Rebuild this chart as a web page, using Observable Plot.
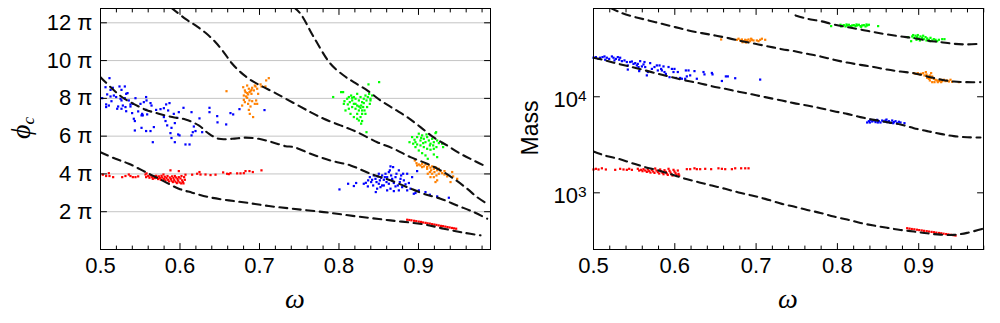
<!DOCTYPE html>
<html><head><meta charset="utf-8">
<script src="https://cdn.jsdelivr.net/npm/d3@7"></script>
<script src="https://cdn.jsdelivr.net/npm/@observablehq/plot@0.6"></script>
<style>
body{margin:0;background:#fff;}
#wrap{position:relative;width:1000px;height:323px;overflow:hidden;}
#left{position:absolute;left:0;top:0}
#right{position:absolute;left:500px;top:0}
</style></head><body><div id="wrap"><div id="left"></div><div id="right"></div></div>
<script>
// ---------- axis tick values ----------
const omegaTicks = [0.5, 0.6, 0.7, 0.8, 0.9];
const omegaMinor = [0.52,0.54,0.56,0.58,0.62,0.64,0.66,0.68,0.72,0.74,0.76,0.78,0.82,0.84,0.86,0.88,0.92,0.94,0.96,0.98];
const phiTicks = [2, 4, 6, 8, 10, 12];           // in units of π
const massTicks = [1000, 10000];

// ---------- dashed curves: phi_c / π vs ω ----------
const phiCurve1 = [[0.5893,12.79],[0.6069,12.21],[0.6195,11.86],[0.6321,11.47],[0.6447,10.97],[0.6551,10.44],[0.6657,9.83],[0.6761,9.39],[0.6887,8.98],[0.7034,8.63],[0.7201,8.28],[0.7431,7.75],[0.7642,7.27],[0.7809,6.92],[0.8019,6.57],[0.8229,6.21],[0.8481,5.68],[0.8689,5.33],[0.8899,4.89],[0.9109,4.54],[0.9277,4.19],[0.9443,3.75],[0.9611,3.22],[0.9738,2.77],[0.9864,2.42]];
const phiCurve2 = [[0.7431,12.83],[0.7516,12.48],[0.7683,11.24],[0.7893,9.83],[0.8060,9.21],[0.8186,8.86],[0.8355,8.42],[0.8522,7.89],[0.8689,7.45],[0.8858,7.01],[0.9025,6.48],[0.9192,5.93],[0.9360,5.51],[0.9528,5.07],[0.9696,4.71],[0.9864,4.36]];
const phiCurve3 = [[0.5,9.12],[0.5147,8.51],[0.5273,8.06],[0.5399,7.75],[0.5566,7.40],[0.5733,7.19],[0.5902,7.01],[0.6069,6.88],[0.6236,6.57],[0.6362,6.13],[0.6488,5.86],[0.6655,5.86],[0.6824,5.92],[0.6991,5.86],[0.7160,5.68],[0.7327,5.47],[0.7431,5.42],[0.7642,5.07],[0.7893,4.71],[0.8145,4.45],[0.8396,4.01],[0.8648,3.66],[0.8858,3.30],[0.9065,2.95],[0.9277,2.69],[0.9487,2.33],[0.9696,1.98],[0.9864,1.63]];
const phiCurve4 = [[0.5,5.15],[0.5189,4.80],[0.5356,4.54],[0.5566,4.10],[0.5776,3.66],[0.5985,3.22],[0.6152,3.01],[0.6362,2.77],[0.6614,2.60],[0.6865,2.46],[0.7117,2.30],[0.7411,2.16],[0.7809,1.98],[0.8229,1.75],[0.8648,1.54],[0.9067,1.33],[0.9318,1.10],[0.9570,0.89],[0.9780,0.75]];

// ---------- dashed curves: Mass vs ω ----------
const massCurve1 = [[0.5205,84500],[0.5349,74300],[0.5513,67500],[0.5677,62400],[0.5841,57500],[0.6005,53100],[0.6169,49000],[0.6333,46000],[0.6497,43400],[0.6661,40800],[0.6825,37900],[0.6989,35600],[0.7153,33400],[0.7317,31300],[0.7464,29900],[0.7628,28000],[0.7792,26300],[0.7956,24300],[0.8120,22700],[0.8284,21500],[0.8448,20400],[0.8612,19200],[0.8776,18300],[0.8940,17600],[0.9104,16300],[0.9268,15100],[0.9432,14400],[0.9596,14200],[0.9760,14200]];
const massCurve2 = [[0.7485,70300],[0.7628,64900],[0.7792,61400],[0.7956,56600],[0.8120,53100],[0.8284,50200],[0.8448,47100],[0.8612,44600],[0.8776,42500],[0.8940,40800],[0.9104,38500],[0.9268,37100],[0.9432,35600],[0.9596,35100],[0.9760,35600]];
const massCurve3 = [[0.5,25500],[0.5144,23900],[0.5308,22000],[0.5472,20400],[0.5636,18800],[0.5800,17300],[0.5964,16000],[0.6128,14800],[0.6292,13900],[0.6456,12900],[0.6620,12100],[0.6784,11300],[0.6948,10600],[0.7112,9910],[0.7317,9140],[0.7464,8590],[0.7628,8110],[0.7792,7600],[0.7956,7080],[0.8120,6640],[0.8284,6140],[0.8448,5750],[0.8612,5440],[0.8776,5140],[0.8940,4710],[0.9104,4390],[0.9268,4110],[0.9432,3890],[0.9596,3790],[0.9760,3770]];
const massCurve4 = [[0.5,2690],[0.5144,2440],[0.5308,2260],[0.5472,2040],[0.5636,1850],[0.5800,1710],[0.5964,1550],[0.6128,1400],[0.6292,1290],[0.6456,1190],[0.6620,1100],[0.6784,1010],[0.6948,938],[0.7112,865],[0.7317,767],[0.7464,719],[0.7628,664],[0.7792,618],[0.7956,566],[0.8120,527],[0.8284,486],[0.8448,456],[0.8612,432],[0.8776,411],[0.8940,395],[0.9104,379],[0.9268,367],[0.9432,365],[0.9596,383],[0.9780,421]];

// ---------- scatter: phi_c / π vs ω ----------
const phiRed = [[0.5029,3.96],[0.5071,3.89],[0.5105,4.04],[0.5113,3.89],[0.5159,3.83],[0.5273,3.83],[0.5314,3.89],[0.5356,3.97],[0.5377,3.89],[0.5407,3.83],[0.544,3.83],[0.5474,3.87],[0.5579,4.03],
 [0.5566,3.97],[0.5574,3.83],[0.56,3.89],[0.5616,3.80],[0.5629,3.92],[0.565,3.83],[0.5658,3.74],[0.5671,3.87],[0.5683,3.78],[0.57,3.90],[0.5713,3.81],[0.5725,3.73],[0.5734,3.87],[0.5746,3.78],[0.5759,3.69],[0.5767,3.90],[0.5776,3.81],[0.5792,3.97],[0.5797,3.73],[0.5809,3.85],[0.5818,3.66],[0.583,3.78],[0.5843,3.89],[0.5851,3.69],[0.586,3.60],[0.5872,3.81],[0.588,4.19],[0.5885,3.73],[0.5893,3.64],[0.5901,3.87],[0.591,3.57],[0.5918,3.78],[0.5927,3.67],[0.5935,3.89],[0.5943,3.59],[0.5952,3.81],[0.596,3.515],[0.5969,3.73],[0.5977,3.64],[0.5985,4.15],[0.5985,3.83],[0.5994,3.55],[0.6006,3.76],[0.6015,3.50],[0.6019,3.89],[0.6027,3.66],[0.6036,3.57],[0.6044,3.50],[0.6052,3.83],[0.6061,3.69],
 [0.6069,3.96],[0.6153,3.96],[0.6216,4.01],[0.6245,4.10],[0.6258,3.97],[0.6321,3.97],[0.6384,3.94],[0.6447,3.96],[0.6543,4.08],[0.6593,4.01],[0.6614,3.99],[0.6635,4.04],[0.6719,4.03],[0.6761,4.03],[0.6803,4.04],[0.6824,4.15],[0.6874,4.15],[0.6916,4.10],[0.7025,4.19],
 [0.8858,1.575],[0.8885,1.56],[0.8912,1.545],[0.8945,1.52],[0.8972,1.50],[0.9003,1.475],[0.9031,1.46],[0.9058,1.43],[0.9089,1.41],[0.9114,1.385],[0.9142,1.37],[0.9171,1.34],[0.9199,1.32],[0.9226,1.30],[0.9254,1.275],[0.9283,1.25],[0.9309,1.235],[0.9338,1.21],[0.9365,1.185],[0.9392,1.165],[0.9421,1.14],[0.9447,1.12],[0.9474,1.10]];
const phiBlue = [[0.5113,9.07],[0.5063,8.59],[0.5126,8.45],[0.5155,8.56],[0.5084,8.21],[0.5021,8.01],[0.5126,8.10],[0.5168,8.15],[0.5138,7.85],[0.5239,8.63],[0.5264,8.45],[0.5306,8.63],[0.5323,8.24],[0.534,8.28],[0.5306,8.01],[0.5252,7.98],[0.5264,7.89],[0.5197,8.07],[0.5222,7.57],[0.521,7.45],[0.5071,7.68],[0.5071,7.54],[0.5105,7.62],[0.5264,7.45],[0.5314,7.54],[0.5377,7.57],[0.5356,7.89],[0.5281,7.62],[0.5323,7.32],[0.5377,7.68],[0.5407,7.71],[0.544,8.01],[0.5398,7.22],[0.5474,7.31],[0.5524,7.18],[0.5516,7.10],[0.5574,8.07],[0.5579,7.89],[0.5545,7.80],[0.5503,7.71],[0.5629,7.75],[0.5642,7.62],[0.5574,7.39],[0.5587,7.15],[0.5532,7.10],[0.5419,6.92],[0.5432,6.80],[0.5432,6.30],[0.5516,6.44],[0.5574,6.27],[0.5629,6.27],[0.5671,6.48],[0.5658,5.68],[0.57,7.39],[0.5755,7.43],[0.5797,7.48],[0.5826,7.68],[0.5868,7.75],[0.5851,7.36],[0.5797,7.01],[0.5818,6.80],[0.5839,6.57],[0.5893,6.44],[0.5922,7.18],[0.5935,6.69],[0.5964,6.97],[0.5985,7.27],[0.6044,7.50],[0.588,6.16],[0.5893,5.90],[0.5935,5.68],[0.5977,6.09],[0.5994,6.04],[0.6069,5.56],[0.612,5.56],[0.6145,6.04],[0.6161,6.21],[0.6145,7.27],[0.6174,6.51],[0.6195,6.27],[0.6245,6.94],[0.6279,6.21],[0.6371,7.50],[0.6371,7.27],[0.6468,7.06],[0.6472,6.73],[0.6581,6.62],[0.6635,7.22],[0.6669,7.15],[0.6748,7.43],[0.7063,7.38],
 [0.8006,3.18],[0.8115,3.48],[0.8187,3.36],[0.8216,3.52],[0.8312,3.48],[0.8367,3.66],[0.8388,3.83],[0.8417,3.69],[0.8438,3.92],[0.8459,3.74],[0.8472,3.57],[0.8489,3.87],[0.8501,4.01],[0.8514,3.66],[0.853,3.80],[0.8543,3.92],[0.8564,3.69],[0.8585,4.01],[0.8598,3.57],[0.8606,3.83],[0.8627,4.10],[0.864,4.19],[0.8656,3.92],[0.8669,3.66],[0.869,3.52],[0.8711,3.83],[0.8723,4.01],[0.874,3.39],[0.8753,4.19],[0.8765,3.57],[0.8782,3.92],[0.8795,3.30],[0.8816,3.66],[0.8837,3.45],[0.8858,4.01],[0.8879,3.52],[0.89,3.22],[0.892,3.83],[0.8941,2.95],[0.8962,2.99],[0.8983,4.15],[0.8405,3.57],[0.843,3.39],[0.8463,3.04],[0.848,3.22],[0.8522,3.30],[0.8564,3.39],[0.8606,3.13],[0.8648,3.22],[0.869,3.09],[0.8711,3.34],[0.8753,3.13],[0.8774,3.74],[0.8648,4.40],[0.8681,4.36],[0.9143,2.90],[0.9235,2.81],[0.9382,2.74],[0.9004,3.13],[0.9088,3.04],[0.8363,3.34],[0.8338,3.53],[0.8501,3.48],[0.8627,3.48],[0.8543,3.39],[0.8577,3.83],[0.8669,3.74],[0.8807,4.01],[0.8858,3.13]];
const phiOrange = [[0.6585,8.38],[0.6795,8.59],[0.6816,8.42],[0.6845,8.68],[0.6866,8.51],[0.6887,8.38],[0.6908,8.56],[0.6929,8.42],[0.6899,8.24],[0.6857,8.21],[0.6832,8.10],[0.6803,7.92],[0.6816,7.80],[0.6845,8.03],[0.6874,7.89],[0.6857,7.71],[0.6887,7.57],[0.6866,7.39],[0.6908,7.85],[0.6941,8.68],[0.695,8.63],[0.6971,8.51],[0.6983,8.24],[0.6958,7.89],[0.6971,7.71],[0.7013,8.74],[0.7025,8.63],[0.7075,8.63],[0.7084,8.95],[0.7117,9.07],[0.6803,8.15],[0.6824,8.33],[0.6845,8.28],[0.6874,8.33],[0.6899,8.45],[0.6878,7.18],[0.692,7.01],[0.6782,7.62],[0.6941,7.71],
 [0.8954,4.71],[0.8975,4.57],[0.9004,4.50],[0.9025,4.45],[0.9046,4.54],[0.9067,4.40],[0.9088,4.50],[0.9109,4.36],[0.913,4.45],[0.9151,4.33],[0.9172,4.40],[0.9193,4.27],[0.9214,4.36],[0.9235,4.19],[0.9256,4.27],[0.9277,4.15],[0.9143,4.10],[0.9172,4.01],[0.9193,3.83],[0.9226,3.92],[0.9256,4.01],[0.9235,3.66],[0.9298,4.04],[0.9327,3.97],[0.9361,3.87],[0.9403,3.57],[0.9424,4.10],[0.9436,3.87],[0.9487,3.74],[0.9117,4.01],[0.9151,3.83],[0.9214,3.57],[0.9046,4.36],[0.8983,4.45],[0.9327,4.15],[0.9201,4.10],[0.9159,4.19],[0.9109,4.27]];
const phiGreen = [[0.7927,8.07],[0.8027,8.33],[0.8052,8.33],[0.8069,7.85],[0.8103,7.98],[0.8124,8.07],[0.8136,7.80],[0.8153,8.15],[0.8166,7.89],[0.8187,7.71],[0.8208,7.98],[0.8229,8.24],[0.825,7.89],[0.8271,8.07],[0.8279,7.62],[0.8291,7.80],[0.8312,7.98],[0.8333,8.15],[0.8346,7.89],[0.8363,8.07],[0.8379,8.24],[0.8396,7.98],[0.8388,7.71],[0.8354,7.54],[0.8321,7.36],[0.8291,7.18],[0.8271,7.01],[0.825,6.83],[0.8279,6.66],[0.8229,7.18],[0.8208,7.45],[0.8166,7.54],[0.8124,7.45],[0.8082,7.36],[0.8061,7.71],[0.8187,8.07],[0.8229,7.62],[0.8304,7.54],[0.8333,7.18],[0.8346,6.21],[0.8371,8.74],[0.8505,8.86],[0.8145,7.18],[0.8187,7.01],[0.825,7.36],[0.8291,7.36],[0.8396,7.89],[0.8417,8.15],[0.8208,7.71],[0.825,7.57],[0.8312,7.75],[0.8166,8.03],[0.8111,7.68],[0.8271,7.50],[0.8229,6.92],[0.8291,6.80],
 [0.8887,5.68],[0.892,5.95],[0.895,5.81],[0.8983,5.95],[0.9004,6.13],[0.9025,5.77],[0.9046,6.04],[0.9067,5.86],[0.9088,5.68],[0.9109,5.95],[0.913,5.77],[0.9151,5.60],[0.9172,5.86],[0.9193,5.68],[0.9214,6.16],[0.9235,5.77],[0.9256,5.63],[0.9298,5.60],[0.931,5.42],[0.9226,5.42],[0.9193,5.33],[0.9151,5.28],[0.9109,5.33],[0.9067,5.42],[0.9025,5.51],[0.8983,5.56],[0.8962,5.42],[0.9004,5.24],[0.9046,5.10],[0.9088,4.98],[0.9117,4.80],[0.9193,5.03],[0.9235,4.89],[0.9222,6.21],[0.8962,5.68],[0.8933,5.60],[0.9059,5.63],[0.9143,5.51],[0.9185,5.51],[0.9034,5.91],[0.9101,6.09]];

// ---------- scatter: Mass vs ω ----------
const massRed = [[0.5,1750],[0.5029,1778],[0.5062,1750],[0.5103,1800],[0.5152,1750],[0.5267,1735],[0.5328,1778],[0.5369,1750],[0.541,1735],[0.5439,1778],[0.5472,1735],
 [0.5545,1778],[0.5562,1706],[0.5586,1735],[0.5603,1680],[0.5615,1763],[0.5636,1706],[0.5656,1652],[0.5668,1750],[0.5685,1680],[0.5701,1626],[0.5718,1735],[0.5734,1666],[0.575,1613],[0.5759,1791],[0.5775,1706],[0.5791,1641],[0.5808,1588],[0.582,1750],[0.5832,1680],[0.5849,1613],[0.5861,1562],[0.5873,1720],[0.589,1652],[0.5902,1588],[0.5914,1538],[0.5923,1778],[0.5935,1693],[0.5947,1626],[0.5959,1562],[0.5972,1514],[0.5984,1735],[0.5996,1666],[0.6009,1600],[0.6021,1538],[0.6037,1706],[0.6046,1575],[0.6054,1514],
 [0.6148,1763],[0.6189,1763],[0.6242,1800],[0.6271,1763],[0.6312,1763],[0.6374,1778],[0.6447,1763],[0.6537,1800],[0.6579,1778],[0.662,1763],[0.6702,1763],[0.6743,1800],[0.6816,1800],[0.6866,1800],[0.6907,1800],
 [0.8858,428],[0.8887,424],[0.8915,420],[0.8946,417],[0.8978,413],[0.9006,409],[0.9037,406],[0.9066,402],[0.9098,399],[0.9126,395],[0.9158,392],[0.9187,389],[0.9216,385],[0.9248,382],[0.9277,379],[0.9306,375],[0.9338,372],[0.9366,369],[0.9397,365],[0.9428,362],[0.9453,359]];
const massBlue = [[0.5,25500],[0.5029,25900],[0.5062,24800],[0.5082,25500],[0.5111,25900],[0.5135,26300],[0.5144,24300],[0.5164,25500],[0.5193,24800],[0.5226,26300],[0.5246,25500],[0.5258,23900],[0.5275,24800],[0.5299,25900],[0.5316,24300],[0.5328,25500],[0.5349,23500],[0.5381,23900],[0.541,23000],[0.5422,21200],[0.5422,19200],[0.5451,23000],[0.5472,23300],[0.5492,22000],[0.5513,22400],[0.5533,21200],[0.5545,22000],[0.5554,20400],[0.5562,18500],[0.5574,23500],[0.5595,20700],[0.5615,21700],[0.5627,23000],[0.5636,20400],[0.5656,16700],[0.5668,18100],[0.5697,22400],[0.5718,19500],[0.575,20400],[0.5779,21200],[0.5791,18800],[0.5812,21200],[0.5832,19500],[0.5841,18800],[0.5861,20700],[0.5873,18100],[0.589,17300],[0.5923,20400],[0.5935,16000],[0.5964,19500],[0.5984,18100],[0.5996,19500],[0.6013,15700],[0.6037,18100],[0.6066,15700],[0.6087,15400],[0.6128,15400],[0.6136,18800],[0.6148,16300],[0.6169,18800],[0.6189,16700],[0.6242,18500],[0.6271,15400],[0.6353,18100],[0.6365,17100],[0.6456,17700],[0.6464,17100],[0.6579,14600],[0.6628,16300],[0.6652,16300],[0.6743,15600],[0.705,15100],
 [0.8366,5400],[0.8387,5570],[0.8407,5750],[0.8428,5530],[0.8448,5660],[0.8469,5450],[0.8489,5750],[0.851,5570],[0.853,5400],[0.8551,5660],[0.8571,5530],[0.8592,5660],[0.8612,5450],[0.8633,5570],[0.8653,5360],[0.8674,5660],[0.8694,5450],[0.8715,5570],[0.8735,5310],[0.8756,5490],[0.8776,5400],[0.8825,5310],[0.8399,5400],[0.8497,5400],[0.8604,5790],[0.8686,5310]];
const massOrange = [[0.657,39500],[0.6763,39200],[0.6784,40200],[0.6804,38600],[0.6825,39500],[0.6845,37900],[0.6866,39200],[0.6886,38600],[0.6907,39500],[0.6927,37900],[0.6948,39200],[0.6968,38600],[0.7009,38600],[0.703,37900],[0.705,39200],[0.7071,40200],[0.7112,39200],[0.6833,37000],[0.6874,36700],[0.6939,40200],[0.6898,37300],
 [0.894,17620],[0.8961,17340],[0.8989,17620],[0.9014,17060],[0.903,17340],[0.9055,17620],[0.9071,16670],[0.9096,17060],[0.9112,16260],[0.9137,16670],[0.9153,15740],[0.9166,16260],[0.9186,15380],[0.9207,15030],[0.9227,14790],[0.9248,14560],[0.9268,15030],[0.9289,14560],[0.9309,15030],[0.933,14560],[0.935,14790],[0.9371,14430],[0.9391,15030],[0.9411,14320],[0.9166,14200],[0.9137,14790],[0.9194,14200],[0.9235,14200],[0.9276,14200],[0.9494,14200],[0.9125,15380],[0.9104,15740],[0.9153,17620],[0.9088,18070]];
const massGreen = [[0.7923,54400],[0.8038,56200],[0.8058,54900],[0.8079,55700],[0.81,54000],[0.812,55300],[0.8141,56200],[0.8161,54400],[0.8182,55300],[0.8202,55700],[0.8223,54400],[0.8243,55300],[0.8264,56200],[0.8284,54400],[0.8305,55300],[0.8325,55700],[0.8346,54000],[0.8366,55300],[0.8387,56200],[0.8501,54400],[0.8046,54000],[0.8112,56600],[0.8169,53500],[0.8235,56600],[0.8292,53500],[0.8358,56600],
 [0.887,41800],[0.8907,37900],[0.892,42500],[0.894,41100],[0.8961,43200],[0.8981,41800],[0.9002,40500],[0.9022,42500],[0.9043,41100],[0.9063,39800],[0.9084,41800],[0.9104,40500],[0.9125,39200],[0.9145,41100],[0.9166,38600],[0.9186,39800],[0.9207,39200],[0.9227,37900],[0.9248,39200],[0.9289,39800],[0.9317,39800],[0.9014,38600],[0.9055,43200],[0.9096,38600],[0.9137,37900],[0.8973,39200],[0.8932,43900],[0.8989,43900]];

// ---------- colours ----------
const colRed = "#ff0000", colBlue = "#0000ff", colOrange = "#ff8000", colGreen = "#00ff00";

// ---------- helpers ----------
const tickShape = {draw(ctx, l) { ctx.moveTo(0, 0); ctx.lineTo(0, -l); }};
function frameTicks(xd, yd, xMaj, xMin, yMaj) {
  const c = {anchor: "start", shape: tickShape, stroke: "black", strokeWidth: 1};
  const m = [];
  for (const [vals, len] of [[xMaj, 6], [xMin, 3.5]]) {
    m.push(Plot.vector(vals, {...c, x: d => d, y: () => yd[0], length: len, rotate: 0}));
    m.push(Plot.vector(vals, {...c, x: d => d, y: () => yd[1], length: len, rotate: 180}));
  }
  m.push(Plot.vector(yMaj, {...c, y: d => d, x: () => xd[0], length: 6, rotate: 90}));
  m.push(Plot.vector(yMaj, {...c, y: d => d, x: () => xd[1], length: 6, rotate: -90}));
  return m;
}
const dots = (arr, col) => Plot.dot(arr, {x: d => d[0], y: d => d[1], symbol: "square", r: 1.25, fill: col, stroke: "none"});
const dashed = arr => Plot.line(arr, {x: d => d[0], y: d => d[1], stroke: "#111", strokeWidth: 2.1, strokeDasharray: "8,5.5", curve: "catmull-rom", clip: true});
const baseStyle = {fontFamily: "'Liberation Sans', Arial, sans-serif", fontSize: "22px", color: "black", background: "white"};

// ---------- left panel ----------
const lx = [0.5, 0.9906], ly = [0, 12.757];
const left = Plot.plot({
  width: 500, height: 323,
  marginLeft: 100, marginRight: 10, marginTop: 8, marginBottom: 74,
  x: {domain: lx}, y: {domain: ly},
  style: baseStyle,
  marks: [
    Plot.ruleY(phiTicks, {stroke: "#c4c4c4", strokeWidth: 1}),
    dots(phiRed, colRed), dots(phiBlue, colBlue), dots(phiOrange, colOrange), dots(phiGreen, colGreen),
    dashed(phiCurve1), dashed(phiCurve2), dashed(phiCurve3), dashed(phiCurve4),
    Plot.frame({stroke: "black", strokeWidth: 1}),
    ...frameTicks(lx, ly, omegaTicks, omegaMinor, phiTicks),
    Plot.axisX({ticks: omegaTicks, tickSize: 0, tickPadding: 8, tickFormat: d => d.toFixed(1), label: null}),
    Plot.axisY({ticks: phiTicks, tickSize: 0, tickPadding: 8, tickFormat: d => d + " π", label: null})
  ]
});
document.getElementById("left").appendChild(left);

// ---------- right panel ----------
const rx = [0.5, 0.9797], ry = [257, 83000];
const right = Plot.plot({
  width: 500, height: 323,
  marginLeft: 93, marginRight: 17, marginTop: 8, marginBottom: 74,
  x: {domain: rx}, y: {type: "log", domain: ry},
  style: baseStyle,
  marks: [
    dots(massRed, colRed), dots(massBlue, colBlue), dots(massOrange, colOrange), dots(massGreen, colGreen),
    dashed(massCurve1), dashed(massCurve2), dashed(massCurve3), dashed(massCurve4),
    Plot.frame({stroke: "black", strokeWidth: 1}),
    ...frameTicks(rx, ry, omegaTicks, omegaMinor, massTicks),
    Plot.axisX({ticks: omegaTicks, tickSize: 0, tickPadding: 8, tickFormat: d => d.toFixed(1), label: null}),
    Plot.axisY({ticks: massTicks, tickSize: 0, tickPadding: 7, dy: 3, tickFormat: d => "10^" + Math.round(Math.log10(d)), label: null})
  ]
});
document.getElementById("right").appendChild(right);

// superscript exponents on the log axis
d3.select(right).selectAll("text").each(function () {
  const t = this.textContent;
  if (t.startsWith("10^")) {
    const sel = d3.select(this);
    sel.text("10");
    sel.append("tspan").attr("dy", "-0.4em").attr("font-size", "15.5px").text(t.slice(3));
  }
});

// ---------- axis titles ----------
const serif = "'Liberation Serif', 'DejaVu Serif', serif";
function addOmega(svg, cx) {
  d3.select(svg).append("text").attr("x", cx).attr("y", 308).attr("text-anchor", "middle")
    .attr("font-family", serif).attr("font-style", "italic").attr("font-size", 28).attr("fill", "black").text("ω");
}
addOmega(left, 295);
addOmega(right, 288);
const phiLab = d3.select(left).append("text").attr("transform", "translate(30,128) rotate(-90)")
  .attr("text-anchor", "middle").attr("font-family", serif).attr("font-style", "italic").attr("font-size", 28).attr("fill", "black");
phiLab.append("tspan").text("ϕ");
phiLab.append("tspan").attr("dy", "0.25em").attr("font-size", 17).text("c");
d3.select(right).append("text").attr("transform", "translate(38,128) rotate(-90)")
  .attr("text-anchor", "middle").attr("font-family", "'Liberation Sans', Arial, sans-serif").attr("font-size", 23).attr("fill", "black").text("Mass");
</script>
</body></html>
